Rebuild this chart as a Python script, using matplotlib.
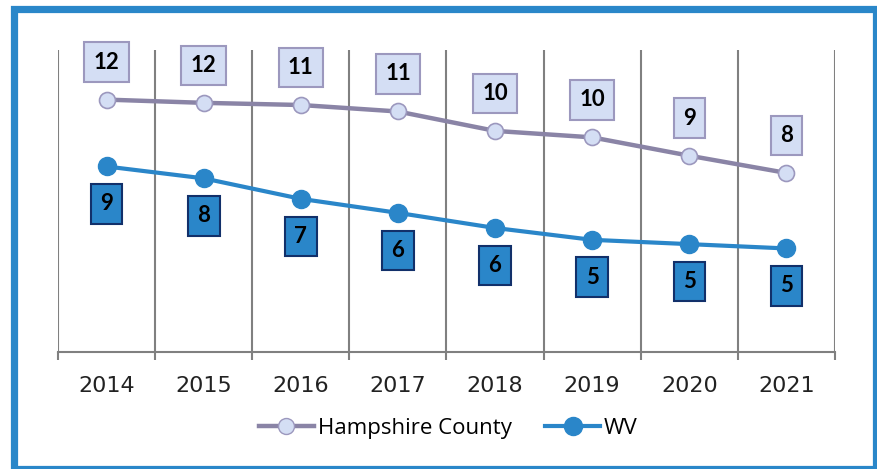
import matplotlib
matplotlib.use('Agg')
import matplotlib.pyplot as plt
from matplotlib.patches import Rectangle
from matplotlib.lines import Line2D

# data
years = ['2014', '2015', '2016', '2017', '2018', '2019', '2020', '2021']
hampshire = [11.7, 11.55, 11.45, 11.15, 10.25, 9.95, 9.1, 8.3]
wv = [8.6, 8.05, 7.1, 6.45, 5.75, 5.2, 5.0, 4.8]
hampshire_labels = ['12', '12', '11', '11', '10', '10', '9', '8']
wv_labels = ['9', '8', '7', '6', '6', '5', '5', '5']

W, H = 877, 469
fig = plt.figure(figsize=(W / 100, H / 100), dpi=100)
ax = fig.add_axes([58 / W, 1 - 352 / H, (835 - 58) / W, (352 - 50) / H])

x = list(range(len(years)))

# colors
h_line = '#8A84A6'
h_fill = '#D4DEF4'
h_edge = '#9C98BE'
wv_blue = '#2A86C9'
wv_edge = '#12306A'

ax.plot(x, hampshire, color=h_line, lw=3.2, marker='o', ms=11.5,
        mfc=h_fill, mec=h_edge, mew=1.2, zorder=3, solid_capstyle='round')
ax.plot(x, wv, color=wv_blue, lw=3.0, marker='o', ms=13,
        mfc=wv_blue, mec=wv_blue, zorder=3, solid_capstyle='round')

for xi, v, lab in zip(x, hampshire, hampshire_labels):
    ax.annotate(lab, (xi, v), xytext=(0, 27), textcoords='offset points',
                ha='center', va='center', fontsize=16, fontweight='bold',
                family='Lato', color='black', zorder=5,
                bbox=dict(boxstyle='square,pad=0.42', fc=h_fill, ec=h_edge, lw=1.5))

for xi, v, lab in zip(x, wv, wv_labels):
    ax.annotate(lab, (xi, v), xytext=(0, -27), textcoords='offset points',
                ha='center', va='center', fontsize=16, fontweight='bold',
                family='Lato', color='black', zorder=5,
                bbox=dict(boxstyle='square,pad=0.42', fc=wv_blue, ec=wv_edge, lw=1.5))

ax.set_xlim(-0.5, len(years) - 0.5)
ax.set_ylim(0, 14)
ax.set_yticks([])

# labels in the middle, tick marks and grid on category boundaries
ax.set_xticks(x)
ax.set_xticklabels(years, family='DejaVu Sans', fontsize=16, color='#222222')
ax.tick_params(axis='x', which='major', length=0, pad=17)
ax.set_xticks([i - 0.5 for i in range(len(years) + 1)], minor=True)
ax.tick_params(axis='x', which='minor', length=6, width=1.5, color='#808080', direction='out')
ax.grid(True, which='minor', axis='x', color='#808080', lw=1.5)

for s in ['top', 'left', 'right']:
    ax.spines[s].set_visible(False)
ax.spines['bottom'].set_color('#808080')
ax.spines['bottom'].set_linewidth(1.5)

handles = [
    Line2D([], [], color=h_line, lw=3.2, marker='o', ms=11.5, mfc=h_fill, mec=h_edge),
    Line2D([], [], color=wv_blue, lw=3.0, marker='o', ms=13, mfc=wv_blue, mec=wv_blue),
]
fig.legend(handles, ['Hampshire County', 'WV'], loc='center', ncol=2,
           bbox_to_anchor=(448 / W, 1 - 428 / H), frameon=False,
           prop={'family': 'Open Sans', 'size': 16}, handlelength=2.5,
           handletextpad=0.15, columnspacing=1.5)

# blue frame around the whole chart
fig.patches.append(Rectangle((13.5 / W, 1 - 469 / H), (876 - 13.5) / W, (469 - 9.5) / H,
                             transform=fig.transFigure, fill=False,
                             ec='#2A87C9', lw=5.2, zorder=10))

fig.savefig('out.png', dpi=100)
